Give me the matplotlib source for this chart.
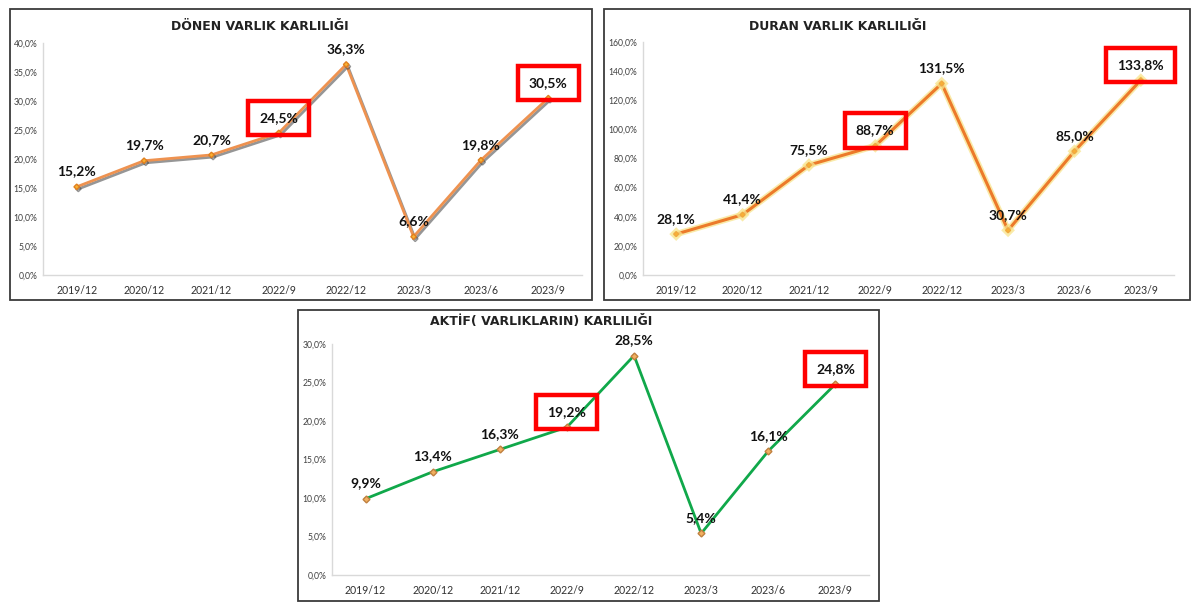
import matplotlib
matplotlib.use('Agg')
import matplotlib.pyplot as plt
import matplotlib.patheffects as pe
from matplotlib.patches import Rectangle
from matplotlib.ticker import FuncFormatter

periods = ['2019/12', '2020/12', '2021/12', '2022/9', '2022/12', '2023/3', '2023/6', '2023/9']
donen = [15.2, 19.7, 20.7, 24.5, 36.3, 6.6, 19.8, 30.5]
duran = [28.1, 41.4, 75.5, 88.7, 131.5, 30.7, 85.0, 133.8]
aktif = [9.9, 13.4, 16.3, 19.2, 28.5, 5.4, 16.1, 24.8]
highlight = ['2022/9', '2023/9']

W, H = 1200, 613
fig = plt.figure(figsize=(W / 100, H / 100), dpi=100)
fig.patch.set_facecolor('white')


def px(x0, y0, x1, y1):
    # pixel box (top-left origin) -> figure fraction rect
    return [x0 / W, 1 - y1 / H, (x1 - x0) / W, (y1 - y0) / H]


def frame(x0, y0, x1, y1):
    fig.patches.append(Rectangle((x0 / W, 1 - y1 / H), (x1 - x0) / W, (y1 - y0) / H,
                                 transform=fig.transFigure, fill=False,
                                 edgecolor='#3a3a3a', linewidth=1.3, zorder=0))


def pct(v, pos):
    return ('%.1f' % v).replace('.', ',') + '%'


def panel(rect, values, ymax, ystep, title, title_xy, style):
    ax = fig.add_axes(rect)
    x = list(range(len(values)))
    if style == 'donen':
        ax.plot(x, values, color='#EE9250', linewidth=2, marker='D', markersize=2.8,
                markerfacecolor='#F9B233', markeredgecolor='#E08020', zorder=3,
                path_effects=[pe.SimpleLineShadow(offset=(1.2, -1.5), shadow_color='#404040', alpha=0.55),
                              pe.Normal()])
    elif style == 'duran':
        ax.plot(x, values, color='#EC7A2A', linewidth=2.2, marker='D', markersize=2.5,
                markerfacecolor='#F9B233', markeredgecolor='#F0A840', zorder=3,
                path_effects=[pe.Stroke(linewidth=4.5, foreground='#F8E48C', alpha=0.75),
                              pe.Normal()])
    else:
        ax.plot(x, values, color='#10A84A', linewidth=2, marker='D', markersize=3.5,
                markerfacecolor='#F2B060', markeredgecolor='#C08040', zorder=3)

    ax.set_xlim(-0.5, len(values) - 0.5)
    ax.set_ylim(0, ymax)
    ax.set_yticks([i * ystep for i in range(int(round(ymax / ystep)) + 1)])
    ax.yaxis.set_major_formatter(FuncFormatter(pct))
    ax.set_xticks(x)
    ax.set_xticklabels(periods)
    ax.tick_params(axis='y', length=0, labelsize=6.2, labelcolor='#404040', pad=4)
    ax.tick_params(axis='x', length=0, labelsize=7.6, labelcolor='#303030', pad=7)
    for t in ax.get_xticklabels() + ax.get_yticklabels():
        t.set_fontfamily('Lato')
    for s in ['top', 'right']:
        ax.spines[s].set_visible(False)
    for s in ['left', 'bottom']:
        ax.spines[s].set_color('#D9D9D9')
        ax.spines[s].set_linewidth(1)
    ax.patch.set_alpha(0)

    for i, v in enumerate(values):
        label = ('%.1f' % v).replace('.', ',') + '%'
        kw = {}
        if periods[i] in highlight:
            kw['bbox'] = dict(boxstyle='square,pad=0.8', facecolor='none',
                              edgecolor='#FF0000', linewidth=3.2)
        ax.annotate(label, (i, v), xytext=(0, 11), textcoords='offset points',
                    ha='center', va='center', fontsize=10, fontweight='bold',
                    family='Lato', color='#111111', zorder=5, **kw)

    fig.text(title_xy[0] / W, 1 - title_xy[1] / H, title, ha='center', va='center',
             fontsize=9, fontweight='bold', color='#222222', family='DejaVu Sans')
    return ax


frame(10, 9, 592, 300)
frame(604, 9, 1190, 300)
frame(298, 310, 879, 601)

panel(px(43, 43, 582, 275), donen, 40, 5, 'DÖNEN VARLIK KARLILIĞI', (260, 27), 'donen')
panel(px(643, 42, 1174, 275), duran, 160, 20, 'DURAN VARLIK KARLILIĞI', (838, 27), 'duran')
panel(px(332, 344, 869, 575), aktif, 30, 5, 'AKTİF( VARLIKLARIN) KARLILIĞI', (541, 321), 'aktif')

fig.savefig('out.png', dpi=100, facecolor='white')
